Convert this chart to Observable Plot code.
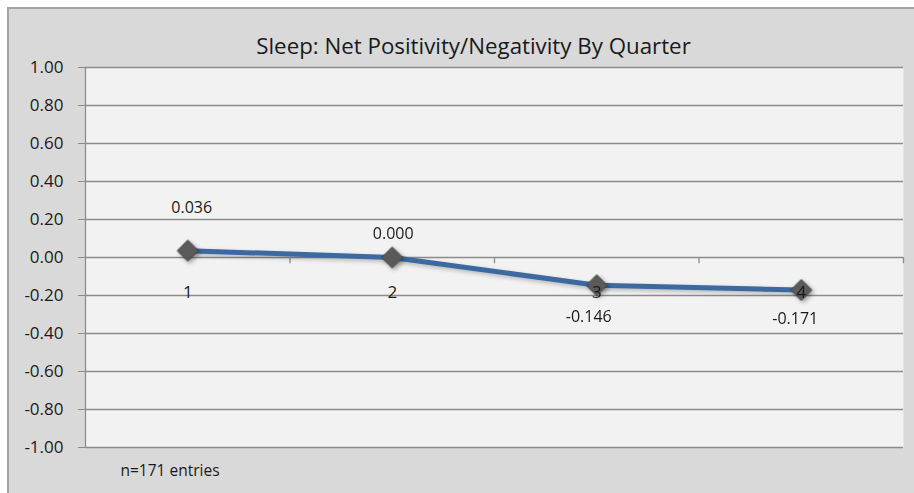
<!DOCTYPE html>
<html><head><meta charset="utf-8">
<script src="https://cdn.jsdelivr.net/npm/d3@7"></script>
<script src="https://cdn.jsdelivr.net/npm/@observablehq/plot@0.6"></script>
<style>
html,body{margin:0;padding:0;background:#fff;}
#wrap{position:relative;width:914px;height:493px;overflow:hidden;}
#frame{position:absolute;left:7px;top:7px;width:920px;height:500px;background:#d9d9d9;border-top:2px solid #a3a3a3;border-left:2px solid #a3a3a3;}
#chart{position:absolute;left:0;top:0;}
</style></head><body>
<div id="wrap"><div id="frame"></div><div id="chart"></div></div>
<script>
// ---- data ----
const quarters = [1, 2, 3, 4];
const values = [0.036, 0.000, -0.146, -0.171];
const valueLabels = ["0.036", "0.000", "-0.146", "-0.171"];
const yTicks = [-1.0, -0.8, -0.6, -0.4, -0.2, 0.0, 0.2, 0.4, 0.6, 0.8, 1.0];
const titleText = "Sleep: Net Positivity/Negativity By Quarter";
const noteText = "n=171 entries";

// ---- style ----
const labelOffsets = [{dx: 4, dy: -43}, {dx: 1, dy: -24}, {dx: -8, dy: 32}, {dx: -6, dy: 29}];
const font = "'Open Sans', 'Liberation Sans', sans-serif";
const gridColor = "#8c8c8c";
const lineColor = "#3b69a0";
const textColor = "#1a1a1a";

const data = quarters.map((q, i) => ({q, v: values[i], label: valueLabels[i], i}));
const boundaries = d3.range(quarters.length + 1).map(i => quarters[0] - 0.5 + i);
const fmt = d => d3.format(".2f")(d).replace("\u2212", "-");

const labelMarks = data.map(d => Plot.text([d], {
  x: "q", y: "v", text: "label", dx: labelOffsets[d.i].dx, dy: labelOffsets[d.i].dy,
  fontSize: 16, fill: textColor
}));

const chart = Plot.plot({
  width: 914, height: 493,
  marginLeft: 85, marginRight: 11, marginTop: 67, marginBottom: 46,
  style: {fontFamily: font, background: "transparent", color: textColor, overflow: "visible"},
  x: {type: "linear", domain: [boundaries[0], boundaries[boundaries.length - 1]], axis: null},
  y: {domain: [-1, 1], axis: null},
  marks: [
    Plot.frame({fill: "#f2f2f2", stroke: null}),
    Plot.ruleY(yTicks, {stroke: gridColor, strokeWidth: 1.3}),
    Plot.ruleX([boundaries[0]], {stroke: gridColor, strokeWidth: 1.3}),
    Plot.ruleX(boundaries.slice(1), {y1: 0, y2: -0.033, stroke: gridColor, strokeWidth: 1.3}),
    Plot.axisY({ticks: yTicks, tickFormat: fmt, tickSize: 7, tickPadding: 15, fontSize: 17, stroke: gridColor, fill: textColor, label: null}),
    Plot.line(data, {x: "q", y: "v", stroke: lineColor, strokeWidth: 5}),
    Plot.dot(data, {x: "q", y: "v", symbol: "diamond2", r: 9.5, fill: "#5a5a5a", stroke: "#444", strokeWidth: 1}),
    Plot.text(data, {x: "q", y: 0, text: d => String(d.q), dy: 35, fontSize: 17, fill: textColor}),
    ...labelMarks,
    Plot.text([titleText], {frameAnchor: "top", dx: -21, dy: -29, fontSize: 22.3, fill: textColor}),
    Plot.text([noteText], {frameAnchor: "bottom-left", textAnchor: "start", dx: 35, dy: 28, fontSize: 15.5, fill: textColor})
  ]
});
chart.querySelectorAll('g[aria-label="dot"]').forEach(g => g.style.filter = "drop-shadow(2px 2px 2px rgba(0,0,0,0.35))");
chart.querySelectorAll('g[aria-label="line"]').forEach(g => g.style.filter = "drop-shadow(1px 2px 2px rgba(0,0,0,0.25))");
document.getElementById("chart").appendChild(chart);
</script>
</body></html>
